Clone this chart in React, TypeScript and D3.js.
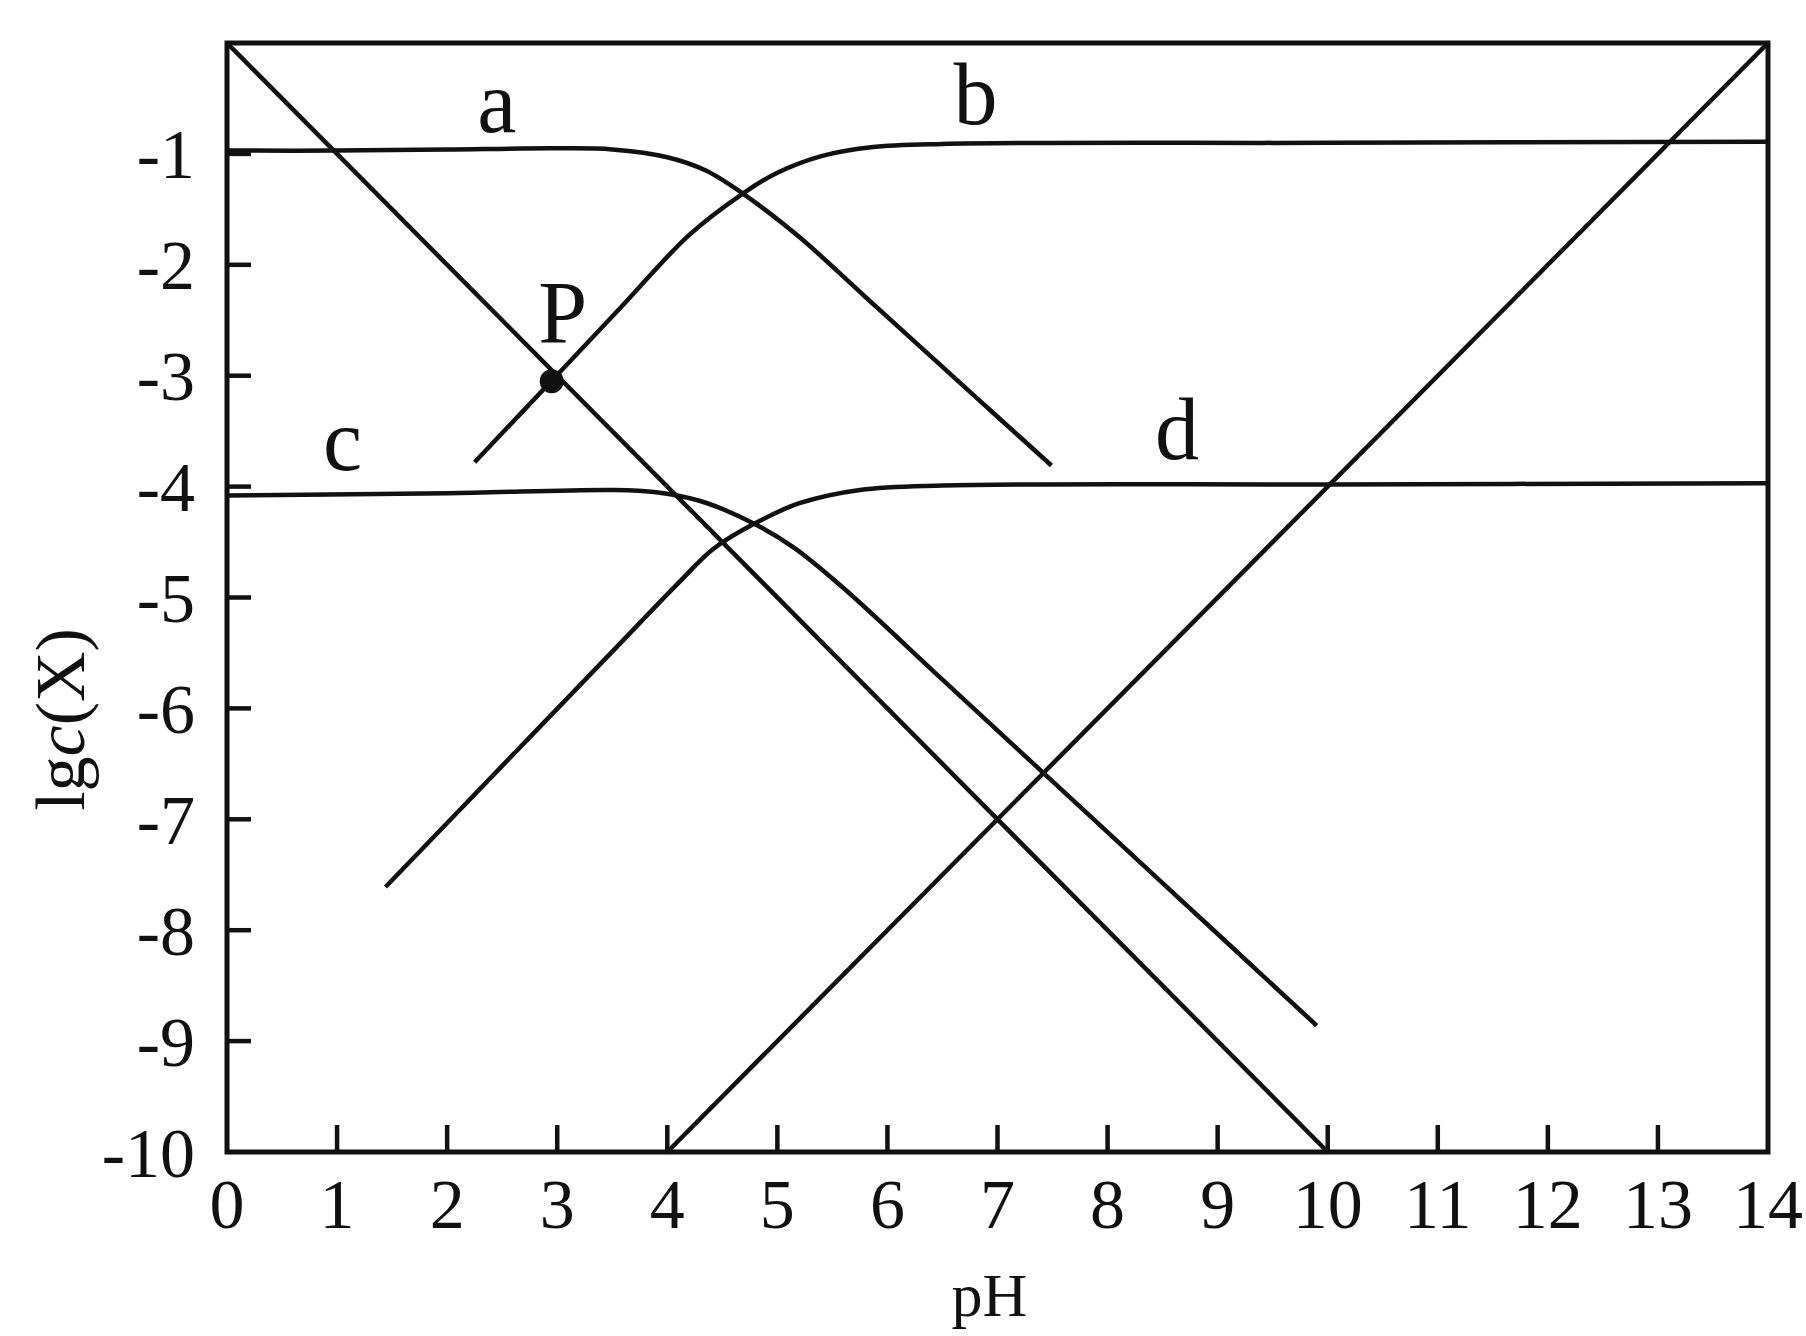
import React, { useEffect } from "react";
import * as d3 from "d3";

// pH axis and lg c(X) axis ticks
const xTicks = [0, 1, 2, 3, 4, 5, 6, 7, 8, 9, 10, 11, 12, 13, 14];
const yTicks = [-1, -2, -3, -4, -5, -6, -7, -8, -9, -10];

// lg c(H+) and lg c(OH-) straight lines
const lineH: [number, number][] = [[0, 0], [10, -10]];
const lineOH: [number, number][] = [[4, -10], [14, 0]];

// species curves (pH, lg c)
const curveA: [number, number][] = [
  [0, -0.97], [1, -0.97], [2, -0.96], [3, -0.95], [3.5, -0.96], [4.0, -1.03],
  [4.35, -1.15], [4.69, -1.36], [5.2, -1.75], [5.8, -2.29], [6.5, -2.92],
  [7.0, -3.37], [7.49, -3.81],
];
const curveB: [number, number][] = [
  [2.25, -3.78], [2.95, -3.045], [3.6, -2.36], [4.2, -1.73], [4.69, -1.355],
  [5.0, -1.17], [5.4, -1.02], [5.85, -0.94], [6.5, -0.91], [10, -0.9], [14, -0.89],
];
const curveC: [number, number][] = [
  [0, -4.08], [2, -4.06], [3.5, -4.03], [3.9, -4.05], [4.3, -4.13], [4.78, -4.33],
  [5.15, -4.55], [5.6, -4.914], [6.5, -5.74], [7.5, -6.658], [8.5, -7.575], [9.9, -8.86],
];
const curveD: [number, number][] = [
  [1.44, -7.61], [2.5, -6.518], [3.5, -5.488], [4.1, -4.87], [4.42, -4.56],
  [4.78, -4.34], [5.2, -4.15], [5.75, -4.03], [6.5, -3.99], [10, -3.98], [14, -3.97],
];

// curve labels and the marked point P
const labels: { text: string; x: number; y: number }[] = [
  { text: "a", x: 2.45, y: -0.8 },
  { text: "b", x: 6.8, y: -0.73 },
  { text: "c", x: 1.05, y: -3.85 },
  { text: "d", x: 8.63, y: -3.75 },
  { text: "P", x: 3.05, y: -2.7 },
];
const pointP: [number, number] = [2.95, -3.05];

const W = 1806;
const H = 1336;
const X0 = 227;
const X1 = 1768;
const Y0 = 43;
const Y1 = 1152;

export default function App() {
  useEffect(() => {
    document.body.style.margin = "0";
  }, []);

  const x = d3.scaleLinear().domain([0, 14]).range([X0, X1]);
  const y = d3.scaleLinear().domain([0, -10]).range([Y0, Y1]);

  const straight = d3
    .line<[number, number]>()
    .x((d) => x(d[0]))
    .y((d) => y(d[1]));
  const smooth = d3
    .line<[number, number]>()
    .x((d) => x(d[0]))
    .y((d) => y(d[1]))
    .curve(d3.curveCatmullRom.alpha(0.5));

  const font = "'Liberation Serif', 'Times New Roman', serif";
  const ink = "#111";

  return (
    <svg width={W} height={H} style={{ display: "block", background: "#fff" }}>
      {/* frame */}
      <rect
        x={x(0)}
        y={y(0)}
        width={x(14) - x(0)}
        height={y(-10) - y(0)}
        fill="none"
        stroke={ink}
        strokeWidth={5}
      />
      {/* y ticks (inward) */}
      {yTicks
        .filter((t) => t > -10)
        .map((t) => (
          <line key={"yt" + t} x1={x(0)} x2={x(0) + 24} y1={y(t)} y2={y(t)} stroke={ink} strokeWidth={4.5} />
        ))}
      {/* x ticks (inward) */}
      {xTicks
        .filter((t) => t > 0 && t < 14)
        .map((t) => (
          <line key={"xt" + t} x1={x(t)} x2={x(t)} y1={y(-10)} y2={y(-10) - 27} stroke={ink} strokeWidth={4.5} />
        ))}
      {/* tick labels */}
      {yTicks.map((t) => (
        <text
          key={"yl" + t}
          x={x(0) - 32}
          y={y(t)}
          dy="0.35em"
          textAnchor="end"
          fontFamily={font}
          fontSize={70}
          fill={ink}
        >
          {t}
        </text>
      ))}
      {xTicks.map((t) => (
        <text
          key={"xl" + t}
          x={x(t)}
          y={y(-10) + 76}
          textAnchor="middle"
          fontFamily={font}
          fontSize={70}
          fill={ink}
        >
          {t}
        </text>
      ))}
      {/* axis titles */}
      <text x={(x(0) + x(14)) / 2 - 8} y={1316} textAnchor="middle" fontFamily={font} fontSize={62} fill={ink}>
        pH
      </text>
      <text
        transform={`translate(84, ${y(-6.1)}) rotate(-90)`}
        textAnchor="middle"
        fontFamily={font}
        fontSize={70}
        fill={ink}
      >
        lg<tspan fontStyle="italic">c</tspan>(X)
      </text>

      {/* curves */}
      <g fill="none" stroke={ink} strokeWidth={4.5} strokeLinejoin="round">
        <path d={straight(lineH) || ""} />
        <path d={straight(lineOH) || ""} />
        <path d={smooth(curveA) || ""} />
        <path d={smooth(curveB) || ""} />
        <path d={smooth(curveC) || ""} />
        <path d={smooth(curveD) || ""} />
      </g>

      <circle cx={x(pointP[0])} cy={y(pointP[1])} r={12} fill={ink} />

      {labels.map((l) => (
        <text
          key={l.text}
          x={x(l.x)}
          y={y(l.y)}
          textAnchor="middle"
          fontFamily={font}
          fontSize={88}
          fill={ink}
        >
          {l.text}
        </text>
      ))}
    </svg>
  );
}
